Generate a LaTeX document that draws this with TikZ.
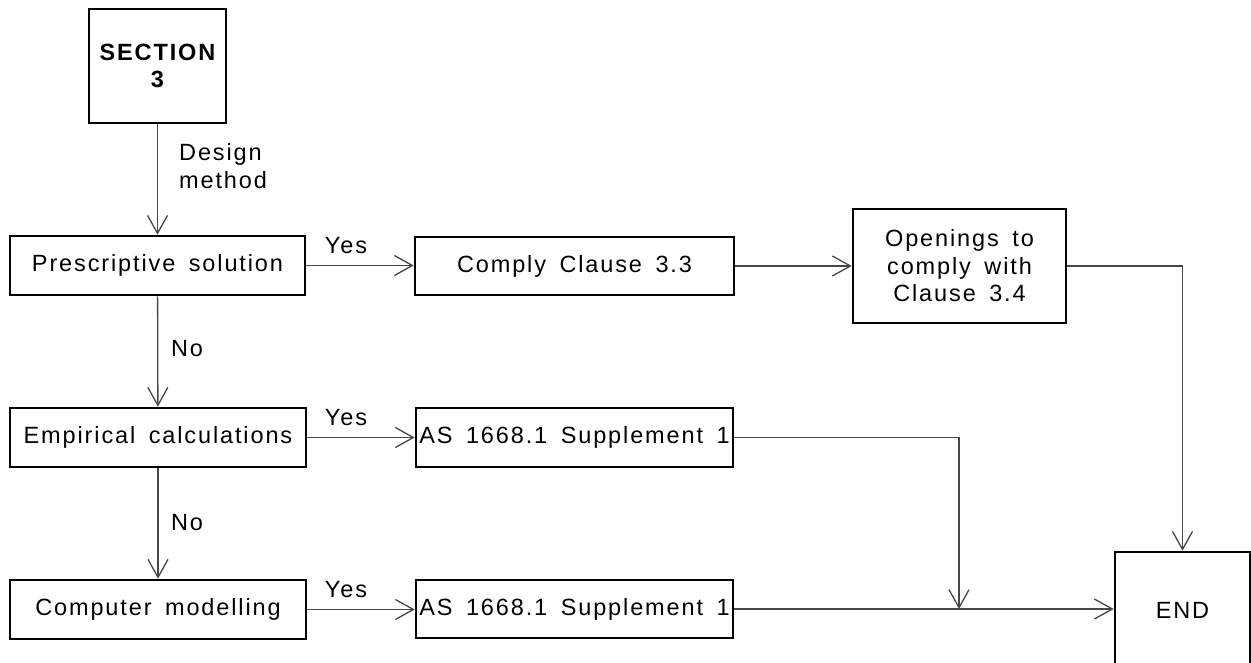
\documentclass[tikz,border=0pt]{standalone}
\usepackage{fontspec}
\setmainfont{Liberation Sans}[LetterSpace=8, WordSpace=1.6]
\usetikzlibrary{arrows.meta}
\begin{document}
\begin{tikzpicture}[x=1pt,y=-1pt,
  txt/.style={font=\fontsize{23.5}{27.5}\selectfont},
  box/.style={txt, draw=black, line width=2.6pt, inner sep=0pt, align=center},
  conn/.style={draw=black!72, line width=1.3pt,
    -{Straight Barb[length=18pt,width=20pt,line width=1.3pt]}},
  plain/.style={draw=black!72, line width=1.3pt},
  lbl/.style={txt, inner sep=0pt}]
\useasboundingbox (0,0) rectangle (1251,663);
\clip (0,0) rectangle (1251,663);
\fill[white] (0,0) rectangle (1251,663);

\node[box, minimum width=137pt, minimum height=114pt, font=\fontsize{23.5}{27}\selectfont\bfseries] (sec) at (157.5,66) {SECTION\\3};
\node[box, minimum width=295pt, minimum height=59pt] (pres) at (157.5,265.5) {Prescriptive solution};
\node[box, minimum width=296pt, minimum height=59pt] (emp) at (158,437.5) {Empirical calculations};
\node[box, minimum width=296pt, minimum height=59pt] (comp) at (158,609.5) {Computer modelling};
\node[box, minimum width=319pt, minimum height=58pt] (cc) at (574.5,266) {Comply Clause 3.3};
\node[box, minimum width=317pt, minimum height=59pt] (as1) at (574.5,437.5) {AS 1668.1 Supplement 1};
\node[box, minimum width=317pt, minimum height=58pt] (as2) at (574.5,609) {AS 1668.1 Supplement 1};
\node[box, minimum width=213pt, minimum height=114pt] (open) at (959.5,266) {Openings to\\comply with\\Clause 3.4};
\node[box, minimum width=135pt, minimum height=116pt] (end) at (1182.5,610) {END};

\draw[conn] (sec) -- (pres);
\draw[conn] (pres) -- (emp);
\draw[conn] (emp) -- (comp);
\draw[conn] (pres.east) -- (pres.east -| cc.west);
\draw[conn] (cc) -- (open);
\draw[conn] (open.east) -| (end.north);
\draw[conn] (emp.east) -- (emp.east -| as1.west);
\draw[conn] (comp.east) -- (comp.east -| as2.west);
\coordinate (j) at (959,609);
\draw[conn] (as1.east) -| (j);
\draw[conn] (as2.east) -- (as2.east -| end.west);

\node[lbl, align=left, anchor=west] (dm) at (179,166) {Design\\method};
\node[lbl] (y1) at (346,246) {Yes};
\node[lbl] (y2) at (346,418) {Yes};
\node[lbl] (y3) at (346,590) {Yes};
\node[lbl] (n1) at (187,349) {No};
\node[lbl] (n2) at (187,523) {No};
\end{tikzpicture}
\end{document}
